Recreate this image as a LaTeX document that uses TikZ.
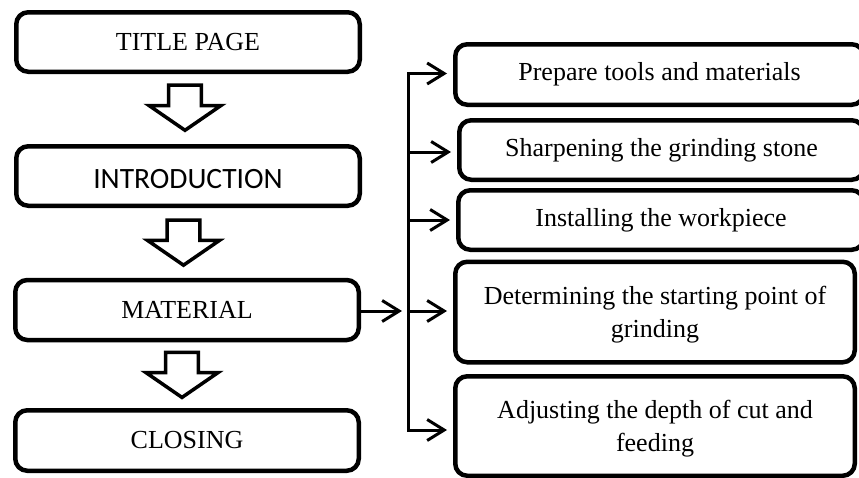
\documentclass[tikz,border=0pt]{standalone}
\usepackage{fontspec}
\setmainfont{Liberation Serif}
\newfontfamily\introfont{Carlito}
\usetikzlibrary{arrows.meta,calc}

\begin{document}
\begin{tikzpicture}[x=1pt,y=-1pt,
  box/.style={draw, line width=4.5pt, rounded corners=12pt, align=center,
    inner sep=0pt, font=\fontsize{26}{32.5}\selectfont},
  leftbox/.style={box, minimum width=343.5pt},
  stepbox/.style={box, minimum width=399.5pt, text depth=0pt},
  link/.style={line width=3pt, line join=miter,
    -{Straight Barb[length=17pt,width=21pt]}},
  hollow/.style={draw, line width=3.5pt, fill=white, line join=miter},
  blockarrow/.pic={
    \path[hollow] (-16.3,-22.8) -- (16.3,-22.8) -- (16.3,-2.5) -- (36,-2.5)
      -- (0,22.3) -- (-36,-2.5) -- (-16.3,-2.5) -- cycle;
  }
]
\useasboundingbox (0,0) rectangle (859,477);
\clip (0,0) rectangle (859,477);

% main outline, left column
\node[leftbox, minimum height=59.5pt] (title) at (188,42) {TITLE PAGE};
\node[leftbox, minimum height=59.5pt, font=\introfont\fontsize{29.5}{34}\selectfont,
  text height=25pt, text depth=0pt] (intro) at (188,176) {INTRODUCTION};
\node[leftbox, minimum height=60pt] (mat) at (187,310) {MATERIAL};
\node[leftbox, minimum height=60.5pt] (close) at (187,440.5) {CLOSING};

% hollow arrows between the sections
\pic at ($(title.south)!0.5!(intro.north)+(-3,-1)$) {blockarrow};
\pic at ($(intro.south)!0.5!(mat.north)+(-4,0)$) {blockarrow};
\pic at ($(mat.south)!0.5!(close.north)+(-5,0)$) {blockarrow};

% steps of the material section
\node[box, minimum width=408.5pt, minimum height=60.5pt] (b1) at (659.5,74.5)
  {Prepare tools and materials};
\node[box, minimum width=404.5pt, minimum height=59.5pt] (b2) at (661.5,150)
  {Sharpening the grinding stone};
\node[box, minimum width=405.5pt, minimum height=59.5pt] (b3) at (661,220)
  {Installing the workpiece};
\node[stepbox, minimum height=100.5pt] (b4) at (655,312)
  {Determining the starting point of\\grinding};
\node[stepbox, minimum height=99.5pt] (b5) at (655,426)
  {Adjusting the depth of cut and\\feeding};

% branching connector
\coordinate (jt) at (408,73.5);
\coordinate (jm) at (408,311);
\coordinate (jb) at (408,430);

\draw[link, shorten >=6pt] (jb) -- (jt) -- (jt -| b1.west);
\draw[link, shorten >=6pt] (jt) -- (jb) -- (jb -| b5.west);
\draw[link, shorten >=6pt] (408,152) -- (b2.west |- 0,152);
\draw[link, shorten >=6pt] (b3.west -| jt) -- (b3.west);
\draw[link, shorten >=6pt] (jm) -- (jm -| b4.west);
\draw[link, shorten >=6pt] (mat.east |- jm) -- (jm);
\end{tikzpicture}
\end{document}
